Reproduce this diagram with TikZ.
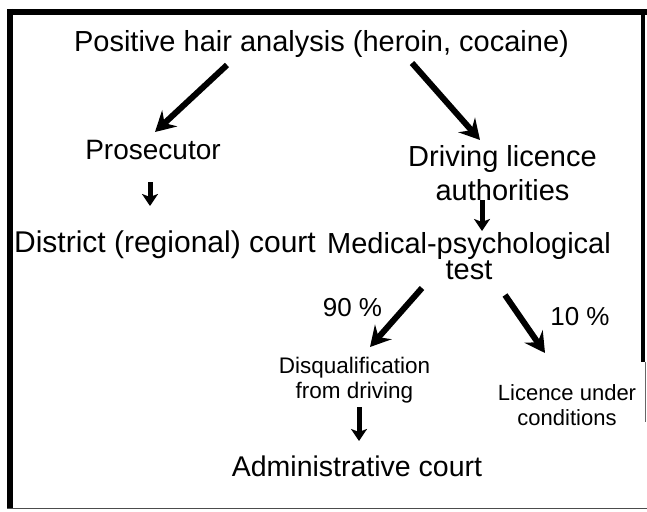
\documentclass[tikz,border=0pt]{standalone}
\usepackage{fontspec}
\setmainfont{Liberation Sans}
\usetikzlibrary{arrows.meta}
\begin{document}
\begin{tikzpicture}[x=1pt,y=-1pt,
  lbl/.style={inner sep=0pt,anchor=base,align=center},
  big/.style={lbl,font=\fontsize{29}{34}\selectfont},
  small/.style={lbl,font=\fontsize{22.5}{25}\selectfont},
  pct/.style={lbl,font=\fontsize{26}{30}\selectfont},
  bigarrow/.style={line width=6pt,-{Stealth[length=20pt,width=22pt,inset=7pt]}},
  downarrow/.style={line width=5pt,-{Stealth[length=12pt,width=16pt,inset=3pt]}},
  frame/.style={line width=6pt,black}]
\useasboundingbox (0,0) rectangle (647,511);
% frame
\draw[frame] (10,9) -- (10,509);
\draw[frame] (7,12) -- (647,12);
\draw[line width=4pt] (643,12) -- (643,362);
\draw[line width=1.2pt,black!60] (645.5,362) -- (645.5,422);
\draw[line width=1.5pt,black!70] (7,508.5) -- (647,508.5);
% labels (base anchor = baseline of the last line)
\node[big] (top) at (321.5,52) {Positive hair analysis (heroin, cocaine)};
\node[big,font=\fontsize{28}{34}\selectfont] (pros) at (153,159) {Prosecutor};
\node[big,font=\fontsize{30}{34}\selectfont] (dist) at (165,252) {District (regional) court};
\node[big] (drive) at (502.5,200) {Driving licence\\authorities};
\node[big,font=\fontsize{29}{24}\selectfont] (med) at (469,279) {Medical-psychological\\test};
\node[pct] (p90) at (352.5,316) {90 \%};
\node[pct] (p10) at (580,325) {10 \%};
\node[small] (disq) at (354.5,398) {Disqualification\\from driving};
\node[small,font=\fontsize{22}{25}\selectfont] (lic) at (567,425) {Licence under\\conditions};
\node[big,font=\fontsize{28.5}{34}\selectfont] (adm) at (357,476) {Administrative court};
% arrow end points
\coordinate (a1s) at (227,65);  \coordinate (a1e) at (155,132);
\coordinate (a2s) at (412,63);  \coordinate (a2e) at (480,140);
\coordinate (a3s) at (150,182); \coordinate (a3e) at (150,206);
\coordinate (a4s) at (482,200); \coordinate (a4e) at (482,231);
\coordinate (a5s) at (422,288); \coordinate (a5e) at (370,347);
\coordinate (a6s) at (505,295); \coordinate (a6e) at (545,353);
\coordinate (a7s) at (359,407); \coordinate (a7e) at (359,441);
% arrows
\draw[bigarrow] (a1s) -- (a1e);
\draw[bigarrow] (a2s) -- (a2e);
\draw[downarrow] (a3s) -- (a3e);
\draw[downarrow] (a4s) -- (a4e);
\draw[bigarrow] (a5s) -- (a5e);
\draw[bigarrow] (a6s) -- (a6e);
\draw[downarrow] (a7s) -- (a7e);
\end{tikzpicture}
\end{document}
